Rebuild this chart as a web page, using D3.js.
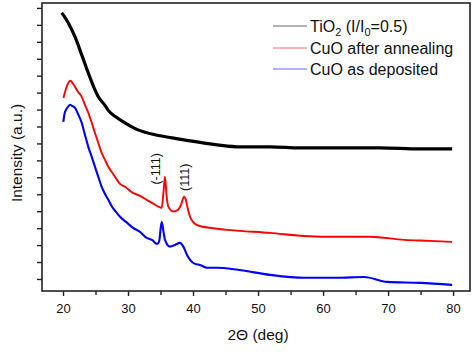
<!DOCTYPE html>
<html>
<head>
<meta charset="utf-8">
<script src="https://cdn.jsdelivr.net/npm/d3@7"></script>
<style>
  html, body { margin: 0; padding: 0; background: #fff; }
  svg { display: block; font-family: "Liberation Sans", Arial, sans-serif; }
</style>
</head>
<body>
<svg id="chart" width="474" height="359"></svg>
<script>
// ---- Data ----
const seriesNames = ["TiO2 (I/I0=0.5)", "CuO after annealing", "CuO as deposited"];
const seriesColors = ["#000000", "#ff0000", "#0000ff"];

// 2Theta (deg) and intensity (a.u.) for each curve
const tio2X = [19.8, 20.15, 20.8, 21.85, 22.88, 23.89, 24.92, 25.43, 26.46, 26.97, 28.0, 29.03, 30.3, 31.54, 34.15, 36.77, 39.54, 43.69, 47.23, 51.85, 56.46, 62.6, 68.77, 74.9, 79.85];
const tio2Y = [15.71, 15.53, 15.12, 14.29, 13.23, 12.16, 11.16, 10.75, 10.25, 9.95, 9.6, 9.33, 9.04, 8.8, 8.51, 8.33, 8.15, 7.92, 7.8, 7.8, 7.74, 7.74, 7.74, 7.68, 7.68];

const annealX = [20.08, 20.31, 20.62, 20.92, 21.15, 21.54, 21.85, 22.31, 22.88, 23.38, 23.89, 24.42, 24.92, 25.43, 25.95, 26.46, 26.97, 27.49, 28.0, 28.77, 29.54, 30.77, 31.85, 32.88, 33.69, 34.66, 35.18, 35.46, 35.69, 35.92, 36.2, 36.97, 37.69, 38.15, 38.62, 38.85, 39.23, 39.54, 40.0, 40.57, 41.54, 42.62, 45.18, 47.23, 51.85, 57.08, 62.15, 67.23, 72.46, 76.46, 79.85];
const annealY = [10.69, 11.04, 11.4, 11.64, 11.7, 11.52, 11.34, 11.05, 10.75, 10.28, 9.81, 9.22, 8.62, 8.03, 7.44, 7.03, 6.62, 6.32, 6.03, 5.61, 5.44, 5.08, 4.91, 4.67, 4.49, 4.27, 4.2, 5.14, 6.03, 4.97, 4.27, 3.98, 4.08, 4.37, 4.85, 4.73, 4.08, 3.67, 3.37, 3.19, 3.08, 3.02, 2.9, 2.84, 2.72, 2.54, 2.49, 2.49, 2.31, 2.25, 2.19];

const depX = [20.05, 20.23, 20.46, 20.77, 21.08, 21.38, 21.85, 22.31, 22.88, 23.38, 23.89, 24.42, 24.92, 25.43, 25.95, 26.46, 26.97, 27.54, 28.15, 28.77, 29.69, 30.77, 31.85, 32.88, 33.69, 34.46, 34.77, 35.18, 35.46, 35.69, 36.46, 37.23, 38.0, 38.51, 39.08, 39.54, 40.31, 41.08, 42.15, 43.65, 46.92, 51.85, 57.08, 62.15, 66.31, 69.85, 74.92, 79.85];
const depY = [9.27, 9.74, 9.98, 10.16, 10.28, 10.22, 10.1, 9.74, 9.21, 8.5, 7.8, 7.21, 6.62, 6.03, 5.44, 5.02, 4.67, 4.26, 3.96, 3.67, 3.37, 3.02, 2.78, 2.42, 2.31, 2.07, 2.19, 3.37, 2.78, 2.31, 1.91, 2.01, 2.13, 1.91, 1.42, 1.13, 0.89, 0.83, 0.66, 0.66, 0.54, 0.24, 0.07, 0.07, 0.12, -0.17, -0.23, -0.35];

const xMajorTicks = [20, 30, 40, 50, 60, 70, 80];
const xMinorTicks = [25, 35, 45, 55, 65, 75];
const yTicks = [0, 1, 2, 3, 4, 5, 6, 7, 8, 9, 10, 11, 12, 13, 14, 15, 16];

const peakLabels = ["(-111)", "(111)"];
const peakLabelX = [34.3, 38.8];
const peakLabelY = [6.5, 6.0];

// ---- Chart ----
const svg = d3.select("#chart");
const mLeft = 42, mRight = 470, mTop = 3, mBottom = 291;

const x = d3.scaleLinear().domain([16.77, 82.6]).range([mLeft, mRight]);
const y = d3.scaleLinear().domain([-0.71, 16.29]).range([mBottom, mTop]);

const series = [
  { xs: tio2X, ys: tio2Y, color: seriesColors[0], w: 3.2 },
  { xs: annealX, ys: annealY, color: seriesColors[1], w: 1.9 },
  { xs: depX, ys: depY, color: seriesColors[2], w: 2.1 }
];

const line = d3.line().curve(d3.curveMonotoneX).x(d => x(d[0])).y(d => y(d[1]));

svg.append("g").selectAll("path").data(series).join("path")
  .attr("d", s => line(s.xs.map((v, i) => [v, s.ys[i]])))
  .attr("fill", "none")
  .attr("stroke", s => s.color)
  .attr("stroke-width", s => s.w)
  .attr("stroke-linejoin", "round");

// frame
svg.append("rect")
  .attr("x", mLeft).attr("y", mTop)
  .attr("width", mRight - mLeft).attr("height", mBottom - mTop)
  .attr("fill", "none").attr("stroke", "#222").attr("stroke-width", 1.6);

// x axis
const xAxis = svg.append("g").attr("transform", `translate(0,${mBottom})`)
  .call(d3.axisBottom(x).tickValues(xMajorTicks).tickSize(5).tickPadding(8).tickFormat(d3.format("d")));
xAxis.select(".domain").remove();
xAxis.selectAll(".tick line").attr("stroke", "#222").attr("stroke-width", 1.4);
xAxis.selectAll(".tick text").attr("font-size", 13).attr("fill", "#111")
  .attr("font-family", "Liberation Sans, Arial, sans-serif");

const xMinor = svg.append("g").attr("transform", `translate(0,${mBottom})`)
  .call(d3.axisBottom(x).tickValues(xMinorTicks).tickSize(4).tickFormat(""));
xMinor.select(".domain").remove();
xMinor.selectAll(".tick line").attr("stroke", "#222").attr("stroke-width", 1.4);

// y axis (no labels)
const yAxis = svg.append("g").attr("transform", `translate(${mLeft},0)`)
  .call(d3.axisLeft(y).tickValues(yTicks).tickSize(5).tickFormat(""));
yAxis.select(".domain").remove();
yAxis.selectAll(".tick line").attr("stroke", "#222").attr("stroke-width", 1.4);

// axis titles
svg.append("text")
  .attr("x", 258).attr("y", 340)
  .attr("text-anchor", "middle")
  .attr("font-size", 15.5).attr("fill", "#111")
  .text("2Θ (deg)");

svg.append("text")
  .attr("transform", "translate(22,153) rotate(-90)")
  .attr("text-anchor", "middle")
  .attr("font-size", 15.5).attr("fill", "#111")
  .text("Intensity (a.u.)");

// peak labels
svg.append("g").selectAll("text").data(peakLabels).join("text")
  .attr("transform", (d, i) => `translate(${x(peakLabelX[i])},${y(peakLabelY[i])}) rotate(-90)`)
  .attr("text-anchor", "middle")
  .attr("dominant-baseline", "central")
  .attr("font-size", 12.5).attr("fill", "#111")
  .text(d => d);

// legend
const legendRows = [26, 48, 69];
const lg = svg.append("g");
legendRows.forEach((ly, i) => {
  lg.append("line")
    .attr("x1", 273).attr("x2", 307).attr("y1", ly).attr("y2", ly)
    .attr("stroke", seriesColors[i]).attr("stroke-width", 1.2).attr("opacity", 0.6);
  const t = lg.append("text").attr("x", 310).attr("y", ly + 6)
    .attr("font-size", 16).attr("fill", "#111");
  if (i === 0) {
    t.append("tspan").text("TiO");
    t.append("tspan").attr("font-size", 11).attr("dy", 4).text("2");
    t.append("tspan").attr("dy", -4).text(" (I/I");
    t.append("tspan").attr("font-size", 11).attr("dy", 4).text("0");
    t.append("tspan").attr("dy", -4).text("=0.5)");
  } else {
    t.text(seriesNames[i]);
  }
});
</script>
</body>
</html>
